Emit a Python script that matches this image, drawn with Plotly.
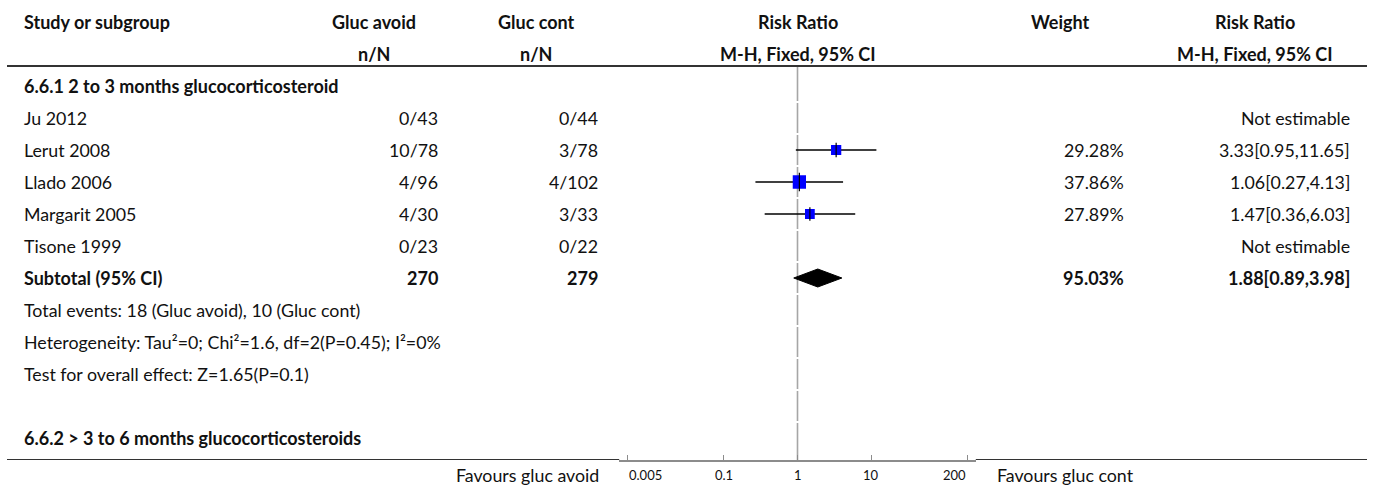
import math
import plotly.graph_objects as go

# ---------------- data ----------------
studies = ["Ju 2012", "Lerut 2008", "Llado 2006", "Margarit 2005", "Tisone 1999"]
avoid_n = [0, 10, 4, 4, 0]
avoid_N = [43, 78, 96, 30, 23]
cont_n = [0, 3, 4, 3, 0]
cont_N = [44, 78, 102, 33, 22]
rr = [None, 3.33, 1.06, 1.47, None]
rr_lo = [None, 0.95, 0.27, 0.36, None]
rr_hi = [None, 11.65, 4.13, 6.03, None]
weights = [None, 29.28, 37.86, 27.89, None]

sub_avoid_N = 270
sub_cont_N = 279
sub_weight = 95.03
sub_rr, sub_lo, sub_hi = 1.88, 0.89, 3.98

group1 = "6.6.1 2 to 3 months glucocorticosteroid"
group2 = "6.6.2 > 3 to 6 months glucocorticosteroids"
total_events = "Total events: 18 (Gluc avoid), 10 (Gluc cont)"
heterogeneity = "Heterogeneity: Tau\u00b2=0; Chi\u00b2=1.6, df=2(P=0.45); I\u00b2=0%"
overall = "Test for overall effect: Z=1.65(P=0.1)"

tick_vals = [0.005, 0.1, 1, 10, 200]
tick_text = ["0.005", "0.1", "1", "10", "200"]
fav_left = "Favours gluc avoid"
fav_right = "Favours gluc cont"

# ---------------- layout constants ----------------
W, H = 1375, 487
FONT = "Lato, 'Noto Sans', sans-serif"
TXT = "#111111"
FS = 17.8
FS_B = 18
ROW_PX = 32
ROW0_PX = 86          # pixel center of row 0
TOP_LINE_PX = 66
BOT_LINE_PX = 460


def row_of(p):
    return (p - ROW0_PX) / ROW_PX


def px(x):
    return x / W


ax_left, ax_right = 619.2, 975.8
LOG_LO, LOG_HI = -2.41, 2.41
yr_top = row_of(0)
yr_bot = row_of(BOT_LINE_PX)

fig = go.Figure()

# vertical line of no effect (segmented per row)
vx, vy = [], []
seg_edges = [row_of(TOP_LINE_PX)] + [r + 0.5 for r in range(0, 11)] + [yr_bot]
gap = 0.03
for a, b in zip(seg_edges[:-1], seg_edges[1:]):
    vx += [1, 1, None]
    vy += [a + (gap if a != seg_edges[0] else 0), b - (gap if b != seg_edges[-1] else 0), None]
fig.add_trace(go.Scatter(x=vx, y=vy, mode="lines", line=dict(color="#a6a6a6", width=1.6),
                         hoverinfo="skip", showlegend=False))

# study rows
study_rows = [1, 2, 3, 4, 5]
for i, r in enumerate(study_rows):
    if rr[i] is None:
        continue
    fig.add_trace(go.Scatter(x=[rr_lo[i], rr_hi[i]], y=[r, r], mode="lines",
                             line=dict(color="black", width=1.3),
                             hoverinfo="skip", showlegend=False))
    size = weights[i] * 0.35
    fig.add_trace(go.Scatter(x=[rr[i]], y=[r], mode="markers",
                             marker=dict(symbol="square", size=size, color="#0000ff",
                                         line=dict(width=0)),
                             hoverinfo="skip", showlegend=False))
    fig.add_trace(go.Scatter(x=[rr[i]], y=[r], mode="markers",
                             marker=dict(symbol="line-ns", size=size,
                                         line=dict(color="black", width=1.2)),
                             hoverinfo="skip", showlegend=False))

# subtotal diamond
sub_row = 6
h = 9 / ROW_PX
fig.add_trace(go.Scatter(x=[sub_lo, sub_rr, sub_hi, sub_rr, sub_lo],
                         y=[sub_row, sub_row - h, sub_row, sub_row + h, sub_row],
                         mode="lines", fill="toself", fillcolor="black",
                         line=dict(color="black", width=1),
                         hoverinfo="skip", showlegend=False))

ann = []


def add_text(text, xpx, row, anchor, bold=False, size=None, yref="y", y=None):
    t = f"<b>{text}</b>" if bold else text
    if size is None:
        size = FS_B if bold else FS
    ann.append(dict(text=t, x=px(xpx), xref="paper",
                    y=row if y is None else y, yref=yref,
                    xanchor=anchor, yanchor="middle", showarrow=False,
                    font=dict(family=FONT, size=size, color=TXT)))


# column positions (pixels)
COL_STUDY = 22
COL_AV_C, COL_AV_R = 374, 440
COL_CO_C, COL_CO_R = 536, 600
COL_RR_C = 797.5
COL_W_C, COL_W_R = 1060, 1126
COL_RT_C, COL_RT_R = 1255, 1352

add_text("Study or subgroup", COL_STUDY, -2, "left", bold=True)
add_text("Gluc avoid", COL_AV_C, -2, "center", bold=True)
add_text("n/N", COL_AV_C, -1, "center", bold=True)
add_text("Gluc cont", COL_CO_C, -2, "center", bold=True)
add_text("n/N", COL_CO_C, -1, "center", bold=True)
add_text("Risk Ratio", COL_RR_C, -2, "center", bold=True)
add_text("M-H, Fixed, 95% CI", COL_RR_C, -1, "center", bold=True)
add_text("Weight", COL_W_C, -2, "center", bold=True)
add_text("Risk Ratio", COL_RT_C, -2, "center", bold=True)
add_text("M-H, Fixed, 95% CI", COL_RT_C, -1, "center", bold=True)

add_text(group1, COL_STUDY, 0, "left", bold=True)
for i, r in enumerate(study_rows):
    add_text(studies[i], COL_STUDY, r, "left")
    add_text(f"{avoid_n[i]}/{avoid_N[i]}", COL_AV_R, r, "right")
    add_text(f"{cont_n[i]}/{cont_N[i]}", COL_CO_R, r, "right")
    if rr[i] is None:
        add_text("Not estimable", COL_RT_R, r, "right")
    else:
        add_text(f"{weights[i]:.2f}%", COL_W_R, r, "right")
        add_text(f"{rr[i]:.2f}[{rr_lo[i]:.2f},{rr_hi[i]:.2f}]", COL_RT_R, r, "right")

add_text("Subtotal (95% CI)", COL_STUDY, sub_row, "left", bold=True)
add_text(str(sub_avoid_N), COL_AV_R, sub_row, "right", bold=True)
add_text(str(sub_cont_N), COL_CO_R, sub_row, "right", bold=True)
add_text(f"{sub_weight:.2f}%", COL_W_R, sub_row, "right", bold=True)
add_text(f"{sub_rr:.2f}[{sub_lo:.2f},{sub_hi:.2f}]", COL_RT_R, sub_row, "right", bold=True)

add_text(total_events, COL_STUDY, 7, "left")
add_text(heterogeneity, COL_STUDY, 8, "left")
add_text(overall, COL_STUDY, 9, "left")
add_text(group2, COL_STUDY, 11, "left", bold=True)

# bottom tick labels (end labels aligned inward, like RevMan)
label_y = (H - 475) / H
for v, t in zip(tick_vals, tick_text):
    frac = (math.log10(v) - LOG_LO) / (LOG_HI - LOG_LO)
    xpix = ax_left + frac * (ax_right - ax_left)
    anchor = "left" if v == tick_vals[0] else ("right" if v == tick_vals[-1] else "center")
    ann.append(dict(text=t, x=px(xpix), xref="paper", y=label_y, yref="paper",
                    xanchor=anchor, yanchor="middle", showarrow=False,
                    font=dict(family=FONT, size=13, color=TXT)))
add_text(fav_left, 601, None, "right", yref="paper", y=label_y)
add_text(fav_right, 995, None, "left", yref="paper", y=label_y)

shapes = [
    dict(type="line", xref="paper", yref="y", x0=px(7), x1=px(1367),
         y0=row_of(TOP_LINE_PX), y1=row_of(TOP_LINE_PX),
         line=dict(color="#333333", width=2)),
    dict(type="line", xref="paper", yref="y", x0=px(7), x1=px(ax_left),
         y0=yr_bot, y1=yr_bot, line=dict(color="#333333", width=2)),
    dict(type="line", xref="paper", yref="y", x0=px(ax_right), x1=px(1367),
         y0=yr_bot, y1=yr_bot, line=dict(color="#333333", width=2)),
]

fig.update_layout(
    width=W, height=H,
    margin=dict(l=0, r=0, t=0, b=0, pad=0),
    paper_bgcolor="white", plot_bgcolor="white",
    showlegend=False,
    annotations=ann, shapes=shapes,
    xaxis=dict(type="log", range=[LOG_LO, LOG_HI],
               domain=[px(ax_left), px(ax_right)],
               showline=True, linecolor="#8c8c8c", linewidth=1.5,
               ticks="inside", ticklen=5, tickwidth=1.2, tickcolor="#8c8c8c",
               tickvals=tick_vals, showticklabels=False,
               showgrid=False, zeroline=False, fixedrange=True),
    yaxis=dict(range=[yr_bot, yr_top], domain=[(H - BOT_LINE_PX) / H, 1],
               visible=False, fixedrange=True),
)

fig.write_html("out.html", config={"displayModeBar": False},
               post_script="document.body.style.margin='0';document.body.style.overflow='hidden';")
